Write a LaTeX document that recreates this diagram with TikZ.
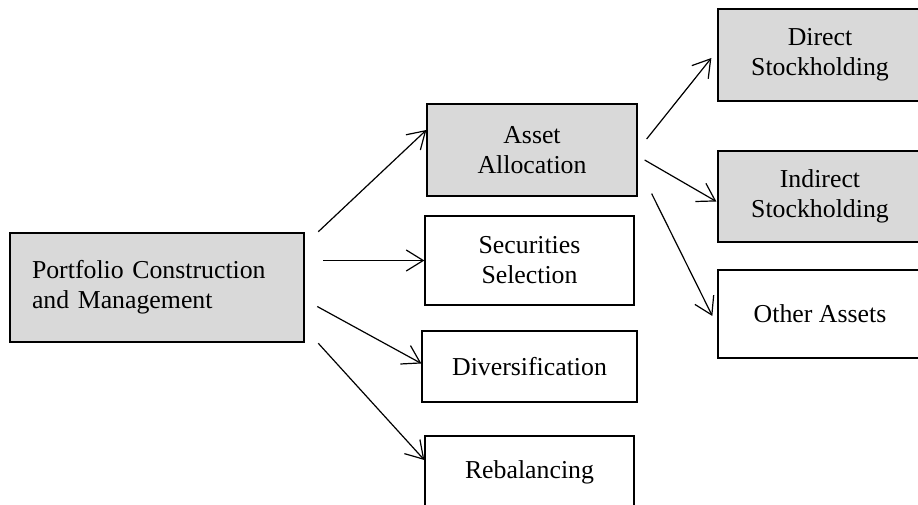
\documentclass[tikz,border=0pt]{standalone}
\usepackage{fontspec}
\setmainfont{Liberation Serif}
\usetikzlibrary{arrows.meta, positioning}
\definecolor{boxgray}{RGB}{217,217,217}
\tikzset{
    box/.style={draw, rectangle, line width=1.3pt, align=center, inner sep=0pt,
        font=\fontsize{25.8}{30}\selectfont},
    greybox/.style={box, fill=boxgray},
    link/.style={line width=1.2pt, -{Straight Barb[length=17pt,width=21pt]}},
}

\begin{document}
\begin{tikzpicture}[x=1pt, y=-1pt]
        \useasboundingbox (0,0) rectangle (918,505);

        \node[greybox, line width=2.5pt, minimum width=294pt, minimum height=109pt,
            text width=250pt, align=left] (portfolio) at (157,287.5)
            {Portfolio Construction\\and Management};

        \node[greybox, minimum width=210pt, minimum height=92pt] (asset) at (532,150)
            {Asset\\Allocation};
        \node[box, minimum width=209pt, minimum height=89pt] (selection) at (529.5,260.5)
            {Securities\\Selection};
        \node[box, minimum width=215pt, minimum height=71pt] (divers) at (529.5,366.5)
            {Diversification};
        \node[box, minimum width=209pt, minimum height=72pt] (rebal) at (529.5,472)
            {Rebalancing};

        \node[greybox, minimum width=204pt, minimum height=92pt] (direct) at (820,55)
            {Direct\\Stockholding};
        \node[greybox, minimum width=204pt, minimum height=91pt] (indirect) at (820,196.5)
            {Indirect\\Stockholding};
        \node[box, minimum width=204pt, minimum height=88pt] (other) at (820,314)
            {Other Assets};

        \draw[link] ([xshift=13pt]portfolio.north east) -- ([yshift=20pt]asset.west);
        \draw[link] ([xshift=18pt,yshift=27pt]portfolio.east) -- (selection.west);
        \draw[link] ([xshift=12pt,yshift=-19pt]portfolio.east) -- ([yshift=3pt]divers.west);
        \draw[link] ([xshift=13pt]portfolio.south east) -- ([yshift=12pt]rebal.west);

        \draw[link] ([xshift=9pt,yshift=11pt]asset.east) -- ([xshift=-6pt,yshift=-3pt]direct.west);
        \draw[link] ([xshift=7pt,yshift=-10pt]asset.east) -- ([xshift=-1pt,yshift=-5pt]indirect.west);
        \draw[link] ([xshift=14pt,yshift=3pt]asset.south east) -- ([xshift=-5pt,yshift=-2pt]other.west);
\end{tikzpicture}
\end{document}
